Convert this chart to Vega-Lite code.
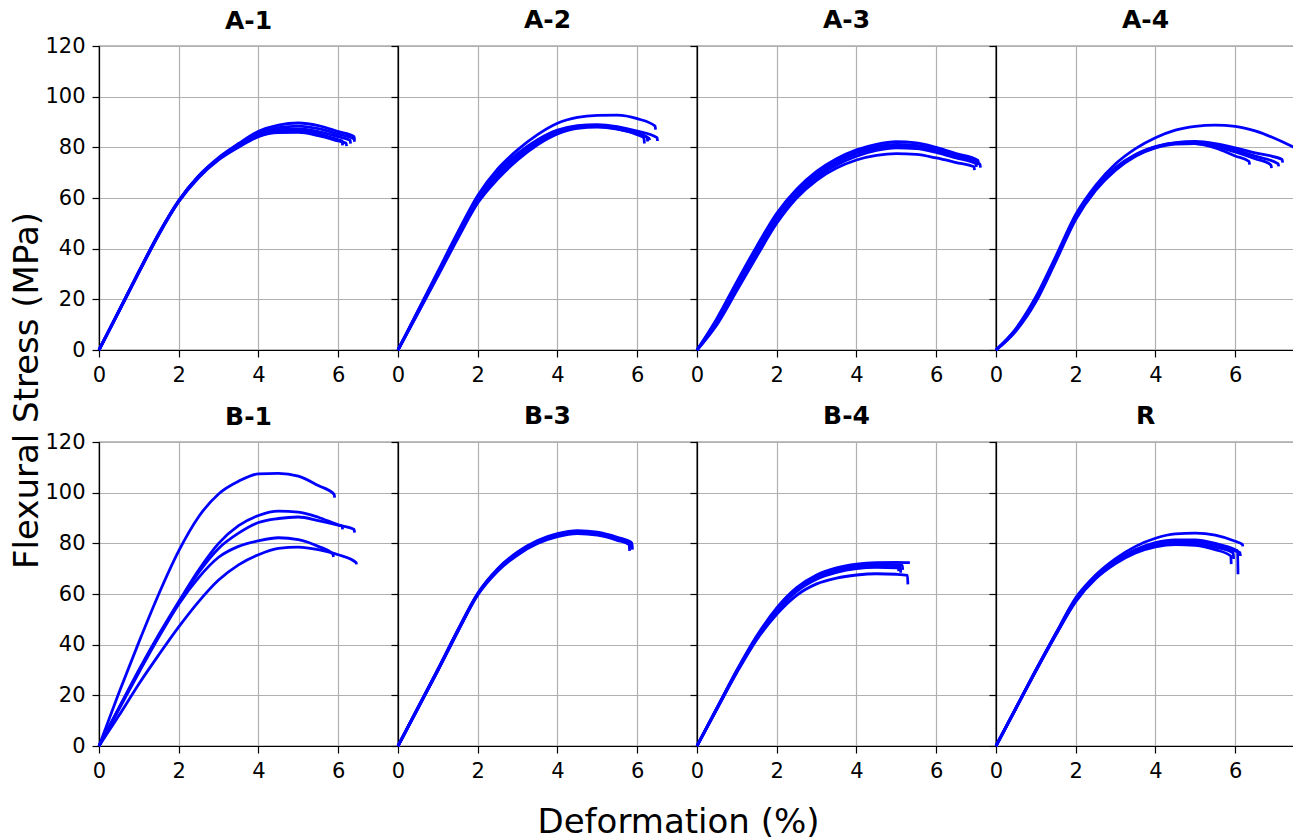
{
"$schema":"https://vega.github.io/schema/vega-lite/v6.json",
"padding":{"left":9,"top":7,"right":0,"bottom":0},
"background":"white",
"config":{
 "font":"DejaVu Sans",
 "view":{"stroke":"#000","strokeWidth":1.2},
 "line":{"color":"#0000ff","strokeWidth":2.8,"clip":true,"interpolate":"monotone"},
 "axis":{"domainColor":"#000","domainWidth":1.2,"tickColor":"#000","tickWidth":1.2,"tickSize":7,"labelFontSize":21,"labelColor":"#000","labelFont":"DejaVu Sans","labelPadding":7,"labelFlush":false,"labelOverlap":false,"gridColor":"#b0b0b0","gridWidth":1.2,"titleFontSize":34,"titleFontWeight":"normal","titleColor":"#000","titleFont":"DejaVu Sans"},
 "title":{"fontSize":25,"fontWeight":"bold","anchor":"middle","offset":12,"baseline":"alphabetic","frame":"group","color":"#000","font":"DejaVu Sans"}
},
"data":{"values":[
{"p":"A-1","c":"a","x":0,"y":0},{"p":"A-1","c":"a","x":0.5,"y":15.5},{"p":"A-1","c":"a","x":1,"y":31},{"p":"A-1","c":"a","x":1.5,"y":46},{"p":"A-1","c":"a","x":2,"y":59},{"p":"A-1","c":"a","x":2.5,"y":68.8},{"p":"A-1","c":"a","x":3,"y":76},{"p":"A-1","c":"a","x":3.5,"y":81.5},{"p":"A-1","c":"a","x":4,"y":86.3},{"p":"A-1","c":"a","x":4.5,"y":88.8},{"p":"A-1","c":"a","x":5,"y":89.6},{"p":"A-1","c":"a","x":5.5,"y":88.6},{"p":"A-1","c":"a","x":6,"y":86.2},{"p":"A-1","c":"a","x":6.4,"y":84.2},{"p":"A-1","c":"a","x":6.41,"y":83},
{"p":"A-1","c":"b","x":0,"y":0},{"p":"A-1","c":"b","x":0.5,"y":15.5},{"p":"A-1","c":"b","x":1,"y":31},{"p":"A-1","c":"b","x":1.5,"y":46},{"p":"A-1","c":"b","x":2,"y":59},{"p":"A-1","c":"b","x":2.5,"y":68.6},{"p":"A-1","c":"b","x":3,"y":75.7},{"p":"A-1","c":"b","x":3.5,"y":81},{"p":"A-1","c":"b","x":4,"y":85.5},{"p":"A-1","c":"b","x":4.5,"y":87.8},{"p":"A-1","c":"b","x":5,"y":88.4},{"p":"A-1","c":"b","x":5.5,"y":87.4},{"p":"A-1","c":"b","x":6,"y":85.2},{"p":"A-1","c":"b","x":6.4,"y":83.3},{"p":"A-1","c":"b","x":6.41,"y":82.2},
{"p":"A-1","c":"c","x":0,"y":0},{"p":"A-1","c":"c","x":0.5,"y":15.3},{"p":"A-1","c":"c","x":1,"y":30.8},{"p":"A-1","c":"c","x":1.5,"y":45.8},{"p":"A-1","c":"c","x":2,"y":58.8},{"p":"A-1","c":"c","x":2.5,"y":68.5},{"p":"A-1","c":"c","x":3,"y":75.5},{"p":"A-1","c":"c","x":3.5,"y":80.6},{"p":"A-1","c":"c","x":4,"y":85},{"p":"A-1","c":"c","x":4.5,"y":87},{"p":"A-1","c":"c","x":5,"y":87.3},{"p":"A-1","c":"c","x":5.5,"y":86.2},{"p":"A-1","c":"c","x":6,"y":84.2},{"p":"A-1","c":"c","x":6.3,"y":82.8},{"p":"A-1","c":"c","x":6.31,"y":81.5},
{"p":"A-1","c":"d","x":0,"y":0},{"p":"A-1","c":"d","x":0.5,"y":15.3},{"p":"A-1","c":"d","x":1,"y":30.7},{"p":"A-1","c":"d","x":1.5,"y":45.6},{"p":"A-1","c":"d","x":2,"y":58.6},{"p":"A-1","c":"d","x":2.5,"y":68.3},{"p":"A-1","c":"d","x":3,"y":75.3},{"p":"A-1","c":"d","x":3.5,"y":80.4},{"p":"A-1","c":"d","x":4,"y":84.5},{"p":"A-1","c":"d","x":4.5,"y":86.3},{"p":"A-1","c":"d","x":5,"y":86.6},{"p":"A-1","c":"d","x":5.5,"y":85.3},{"p":"A-1","c":"d","x":6,"y":83},{"p":"A-1","c":"d","x":6.1,"y":82.5},{"p":"A-1","c":"d","x":6.11,"y":80.8},
{"p":"A-1","c":"e","x":0,"y":0},{"p":"A-1","c":"e","x":0.5,"y":15.2},{"p":"A-1","c":"e","x":1,"y":30.5},{"p":"A-1","c":"e","x":1.5,"y":45.5},{"p":"A-1","c":"e","x":2,"y":58.5},{"p":"A-1","c":"e","x":2.5,"y":68},{"p":"A-1","c":"e","x":3,"y":75},{"p":"A-1","c":"e","x":3.5,"y":80},{"p":"A-1","c":"e","x":4,"y":84.2},{"p":"A-1","c":"e","x":4.5,"y":85.8},{"p":"A-1","c":"e","x":5,"y":85.9},{"p":"A-1","c":"e","x":5.5,"y":84.6},{"p":"A-1","c":"e","x":6,"y":82.5},{"p":"A-1","c":"e","x":6.2,"y":81.6},{"p":"A-1","c":"e","x":6.21,"y":80.5},

{"p":"A-2","c":"a","x":0,"y":0},{"p":"A-2","c":"a","x":0.5,"y":15.5},{"p":"A-2","c":"a","x":1,"y":31},{"p":"A-2","c":"a","x":1.5,"y":46.5},{"p":"A-2","c":"a","x":2,"y":61},{"p":"A-2","c":"a","x":2.5,"y":71.5},{"p":"A-2","c":"a","x":3,"y":79},{"p":"A-2","c":"a","x":3.5,"y":85},{"p":"A-2","c":"a","x":4,"y":89.5},{"p":"A-2","c":"a","x":4.5,"y":91.8},{"p":"A-2","c":"a","x":5,"y":92.6},{"p":"A-2","c":"a","x":5.5,"y":92.7},{"p":"A-2","c":"a","x":6,"y":91.3},{"p":"A-2","c":"a","x":6.45,"y":88.4},{"p":"A-2","c":"a","x":6.46,"y":87},
{"p":"A-2","c":"b","x":0,"y":0},{"p":"A-2","c":"b","x":0.5,"y":15.3},{"p":"A-2","c":"b","x":1,"y":30.5},{"p":"A-2","c":"b","x":1.5,"y":46},{"p":"A-2","c":"b","x":2,"y":60.5},{"p":"A-2","c":"b","x":2.5,"y":70.5},{"p":"A-2","c":"b","x":3,"y":77.5},{"p":"A-2","c":"b","x":3.5,"y":83},{"p":"A-2","c":"b","x":4,"y":86.8},{"p":"A-2","c":"b","x":4.5,"y":88.6},{"p":"A-2","c":"b","x":5,"y":89},{"p":"A-2","c":"b","x":5.5,"y":88.2},{"p":"A-2","c":"b","x":6,"y":86.4},{"p":"A-2","c":"b","x":6.5,"y":83.8},{"p":"A-2","c":"b","x":6.51,"y":82.5},
{"p":"A-2","c":"c","x":0,"y":0},{"p":"A-2","c":"c","x":0.5,"y":15},{"p":"A-2","c":"c","x":1,"y":30},{"p":"A-2","c":"c","x":1.5,"y":45.3},{"p":"A-2","c":"c","x":2,"y":59.5},{"p":"A-2","c":"c","x":2.5,"y":69.5},{"p":"A-2","c":"c","x":3,"y":76.5},{"p":"A-2","c":"c","x":3.5,"y":82},{"p":"A-2","c":"c","x":4,"y":86},{"p":"A-2","c":"c","x":4.5,"y":88.2},{"p":"A-2","c":"c","x":5,"y":88.7},{"p":"A-2","c":"c","x":5.5,"y":87.8},{"p":"A-2","c":"c","x":6,"y":85.6},{"p":"A-2","c":"c","x":6.25,"y":84},{"p":"A-2","c":"c","x":6.26,"y":82.3},
{"p":"A-2","c":"d","x":0,"y":0},{"p":"A-2","c":"d","x":0.5,"y":14.8},{"p":"A-2","c":"d","x":1,"y":29.7},{"p":"A-2","c":"d","x":1.5,"y":44.8},{"p":"A-2","c":"d","x":2,"y":59},{"p":"A-2","c":"d","x":2.5,"y":68.5},{"p":"A-2","c":"d","x":3,"y":75.5},{"p":"A-2","c":"d","x":3.5,"y":81.5},{"p":"A-2","c":"d","x":4,"y":85.6},{"p":"A-2","c":"d","x":4.5,"y":87.8},{"p":"A-2","c":"d","x":5,"y":88.4},{"p":"A-2","c":"d","x":5.5,"y":87.3},{"p":"A-2","c":"d","x":6,"y":85},{"p":"A-2","c":"d","x":6.17,"y":83.7},{"p":"A-2","c":"d","x":6.18,"y":81.5},
{"p":"A-2","c":"e","x":0,"y":0},{"p":"A-2","c":"e","x":0.5,"y":14.5},{"p":"A-2","c":"e","x":1,"y":29.2},{"p":"A-2","c":"e","x":1.5,"y":44},{"p":"A-2","c":"e","x":2,"y":58},{"p":"A-2","c":"e","x":2.5,"y":67.5},{"p":"A-2","c":"e","x":3,"y":75},{"p":"A-2","c":"e","x":3.5,"y":81},{"p":"A-2","c":"e","x":4,"y":85.3},{"p":"A-2","c":"e","x":4.5,"y":87.5},{"p":"A-2","c":"e","x":5,"y":88},{"p":"A-2","c":"e","x":5.5,"y":87.2},{"p":"A-2","c":"e","x":6,"y":85.3},{"p":"A-2","c":"e","x":6.3,"y":83.5},{"p":"A-2","c":"e","x":6.31,"y":82.8},

{"p":"A-3","c":"a","x":0,"y":0},{"p":"A-3","c":"a","x":0.5,"y":12.5},{"p":"A-3","c":"a","x":1,"y":27},{"p":"A-3","c":"a","x":1.5,"y":41},{"p":"A-3","c":"a","x":2,"y":54},{"p":"A-3","c":"a","x":2.5,"y":63.5},{"p":"A-3","c":"a","x":3,"y":70.5},{"p":"A-3","c":"a","x":3.5,"y":75.5},{"p":"A-3","c":"a","x":4,"y":79},{"p":"A-3","c":"a","x":4.5,"y":81.2},{"p":"A-3","c":"a","x":5,"y":82.2},{"p":"A-3","c":"a","x":5.5,"y":81.8},{"p":"A-3","c":"a","x":6,"y":80},{"p":"A-3","c":"a","x":6.5,"y":77.5},{"p":"A-3","c":"a","x":7.05,"y":74.8},{"p":"A-3","c":"a","x":7.06,"y":73.5},
{"p":"A-3","c":"b","x":0,"y":0},{"p":"A-3","c":"b","x":0.5,"y":12},{"p":"A-3","c":"b","x":1,"y":26},{"p":"A-3","c":"b","x":1.5,"y":40},{"p":"A-3","c":"b","x":2,"y":53},{"p":"A-3","c":"b","x":2.5,"y":62.5},{"p":"A-3","c":"b","x":3,"y":69.5},{"p":"A-3","c":"b","x":3.5,"y":74.5},{"p":"A-3","c":"b","x":4,"y":78},{"p":"A-3","c":"b","x":4.5,"y":80.3},{"p":"A-3","c":"b","x":5,"y":81.2},{"p":"A-3","c":"b","x":5.5,"y":80.8},{"p":"A-3","c":"b","x":6,"y":79.2},{"p":"A-3","c":"b","x":6.5,"y":76.8},{"p":"A-3","c":"b","x":7.05,"y":74.2},{"p":"A-3","c":"b","x":7.06,"y":73},
{"p":"A-3","c":"c","x":0,"y":0},{"p":"A-3","c":"c","x":0.5,"y":11},{"p":"A-3","c":"c","x":1,"y":25},{"p":"A-3","c":"c","x":1.5,"y":38.5},{"p":"A-3","c":"c","x":2,"y":51.5},{"p":"A-3","c":"c","x":2.5,"y":61.5},{"p":"A-3","c":"c","x":3,"y":69},{"p":"A-3","c":"c","x":3.5,"y":74},{"p":"A-3","c":"c","x":4,"y":77.5},{"p":"A-3","c":"c","x":4.5,"y":79.6},{"p":"A-3","c":"c","x":5,"y":80.5},{"p":"A-3","c":"c","x":5.5,"y":80.2},{"p":"A-3","c":"c","x":6,"y":78.6},{"p":"A-3","c":"c","x":6.5,"y":76.2},{"p":"A-3","c":"c","x":7.1,"y":73.3},{"p":"A-3","c":"c","x":7.11,"y":72},
{"p":"A-3","c":"d","x":0,"y":0},{"p":"A-3","c":"d","x":0.5,"y":10.5},{"p":"A-3","c":"d","x":1,"y":24},{"p":"A-3","c":"d","x":1.5,"y":37.5},{"p":"A-3","c":"d","x":2,"y":50.5},{"p":"A-3","c":"d","x":2.5,"y":60.5},{"p":"A-3","c":"d","x":3,"y":68},{"p":"A-3","c":"d","x":3.5,"y":73},{"p":"A-3","c":"d","x":4,"y":76.5},{"p":"A-3","c":"d","x":4.5,"y":78.8},{"p":"A-3","c":"d","x":5,"y":79.8},{"p":"A-3","c":"d","x":5.5,"y":79.5},{"p":"A-3","c":"d","x":6,"y":78},{"p":"A-3","c":"d","x":6.5,"y":75.8},{"p":"A-3","c":"d","x":7,"y":73.5},{"p":"A-3","c":"d","x":7.01,"y":72.3},
{"p":"A-3","c":"e","x":0,"y":0},{"p":"A-3","c":"e","x":0.5,"y":10},{"p":"A-3","c":"e","x":1,"y":23.5},{"p":"A-3","c":"e","x":1.5,"y":37},{"p":"A-3","c":"e","x":2,"y":50},{"p":"A-3","c":"e","x":2.5,"y":60},{"p":"A-3","c":"e","x":3,"y":67},{"p":"A-3","c":"e","x":3.5,"y":71.8},{"p":"A-3","c":"e","x":4,"y":75},{"p":"A-3","c":"e","x":4.5,"y":76.8},{"p":"A-3","c":"e","x":5,"y":77.5},{"p":"A-3","c":"e","x":5.5,"y":77.2},{"p":"A-3","c":"e","x":6,"y":75.8},{"p":"A-3","c":"e","x":6.5,"y":74},{"p":"A-3","c":"e","x":6.95,"y":72.3},{"p":"A-3","c":"e","x":6.96,"y":71},

{"p":"A-4","c":"a","x":0,"y":0},{"p":"A-4","c":"a","x":0.5,"y":8.5},{"p":"A-4","c":"a","x":1,"y":21},{"p":"A-4","c":"a","x":1.5,"y":37},{"p":"A-4","c":"a","x":2,"y":53.5},{"p":"A-4","c":"a","x":2.5,"y":65},{"p":"A-4","c":"a","x":3,"y":73.5},{"p":"A-4","c":"a","x":3.5,"y":79.5},{"p":"A-4","c":"a","x":4,"y":83.8},{"p":"A-4","c":"a","x":4.5,"y":86.8},{"p":"A-4","c":"a","x":5,"y":88.3},{"p":"A-4","c":"a","x":5.5,"y":88.8},{"p":"A-4","c":"a","x":6,"y":88.3},{"p":"A-4","c":"a","x":6.5,"y":86.5},{"p":"A-4","c":"a","x":7,"y":83.5},{"p":"A-4","c":"a","x":7.5,"y":79.8},
{"p":"A-4","c":"b","x":0,"y":0},{"p":"A-4","c":"b","x":0.5,"y":8},{"p":"A-4","c":"b","x":1,"y":20},{"p":"A-4","c":"b","x":1.5,"y":36},{"p":"A-4","c":"b","x":2,"y":52.5},{"p":"A-4","c":"b","x":2.5,"y":64},{"p":"A-4","c":"b","x":3,"y":72},{"p":"A-4","c":"b","x":3.5,"y":77.2},{"p":"A-4","c":"b","x":4,"y":80.3},{"p":"A-4","c":"b","x":4.5,"y":81.9},{"p":"A-4","c":"b","x":5,"y":82.3},{"p":"A-4","c":"b","x":5.5,"y":81.5},{"p":"A-4","c":"b","x":6,"y":79.8},{"p":"A-4","c":"b","x":6.5,"y":77.8},{"p":"A-4","c":"b","x":7.18,"y":75.2},{"p":"A-4","c":"b","x":7.19,"y":74},
{"p":"A-4","c":"c","x":0,"y":0},{"p":"A-4","c":"c","x":0.5,"y":7.8},{"p":"A-4","c":"c","x":1,"y":19.5},{"p":"A-4","c":"c","x":1.5,"y":35.5},{"p":"A-4","c":"c","x":2,"y":52},{"p":"A-4","c":"c","x":2.5,"y":63.5},{"p":"A-4","c":"c","x":3,"y":71.5},{"p":"A-4","c":"c","x":3.5,"y":76.8},{"p":"A-4","c":"c","x":4,"y":80},{"p":"A-4","c":"c","x":4.5,"y":81.6},{"p":"A-4","c":"c","x":5,"y":81.9},{"p":"A-4","c":"c","x":5.5,"y":81},{"p":"A-4","c":"c","x":6,"y":79},{"p":"A-4","c":"c","x":6.5,"y":76.5},{"p":"A-4","c":"c","x":7.08,"y":73.5},{"p":"A-4","c":"c","x":7.09,"y":72.5},
{"p":"A-4","c":"d","x":0,"y":0},{"p":"A-4","c":"d","x":0.5,"y":7.5},{"p":"A-4","c":"d","x":1,"y":19},{"p":"A-4","c":"d","x":1.5,"y":35},{"p":"A-4","c":"d","x":2,"y":51.5},{"p":"A-4","c":"d","x":2.5,"y":63},{"p":"A-4","c":"d","x":3,"y":71},{"p":"A-4","c":"d","x":3.5,"y":76.5},{"p":"A-4","c":"d","x":4,"y":79.8},{"p":"A-4","c":"d","x":4.5,"y":81.3},{"p":"A-4","c":"d","x":5,"y":81.5},{"p":"A-4","c":"d","x":5.5,"y":80.4},{"p":"A-4","c":"d","x":6,"y":78.2},{"p":"A-4","c":"d","x":6.5,"y":75.5},{"p":"A-4","c":"d","x":6.9,"y":73},{"p":"A-4","c":"d","x":6.91,"y":71.8},
{"p":"A-4","c":"e","x":0,"y":0},{"p":"A-4","c":"e","x":0.5,"y":8},{"p":"A-4","c":"e","x":1,"y":20},{"p":"A-4","c":"e","x":1.5,"y":36},{"p":"A-4","c":"e","x":2,"y":52.5},{"p":"A-4","c":"e","x":2.5,"y":63.8},{"p":"A-4","c":"e","x":3,"y":71.8},{"p":"A-4","c":"e","x":3.5,"y":77},{"p":"A-4","c":"e","x":4,"y":80.2},{"p":"A-4","c":"e","x":4.5,"y":81.7},{"p":"A-4","c":"e","x":5,"y":81.5},{"p":"A-4","c":"e","x":5.5,"y":79.8},{"p":"A-4","c":"e","x":6,"y":76.6},{"p":"A-4","c":"e","x":6.35,"y":74.4},{"p":"A-4","c":"e","x":6.36,"y":73.2},

{"p":"B-1","c":"a","x":0,"y":0},{"p":"B-1","c":"a","x":0.5,"y":21},{"p":"B-1","c":"a","x":1,"y":41},{"p":"B-1","c":"a","x":1.5,"y":60},{"p":"B-1","c":"a","x":2,"y":77},{"p":"B-1","c":"a","x":2.5,"y":90.5},{"p":"B-1","c":"a","x":3,"y":99.5},{"p":"B-1","c":"a","x":3.5,"y":104.5},{"p":"B-1","c":"a","x":4,"y":107.4},{"p":"B-1","c":"a","x":4.5,"y":107.6},{"p":"B-1","c":"a","x":5,"y":106.5},{"p":"B-1","c":"a","x":5.5,"y":102.8},{"p":"B-1","c":"a","x":5.9,"y":99.3},{"p":"B-1","c":"a","x":5.91,"y":98},
{"p":"B-1","c":"b","x":0,"y":0},{"p":"B-1","c":"b","x":0.5,"y":15},{"p":"B-1","c":"b","x":1,"y":30},{"p":"B-1","c":"b","x":1.5,"y":44},{"p":"B-1","c":"b","x":2,"y":57},{"p":"B-1","c":"b","x":2.5,"y":69.5},{"p":"B-1","c":"b","x":3,"y":80},{"p":"B-1","c":"b","x":3.5,"y":87},{"p":"B-1","c":"b","x":4,"y":91},{"p":"B-1","c":"b","x":4.5,"y":92.7},{"p":"B-1","c":"b","x":5,"y":92.3},{"p":"B-1","c":"b","x":5.5,"y":90.3},{"p":"B-1","c":"b","x":6,"y":87.3},{"p":"B-1","c":"b","x":6.1,"y":86.8},{"p":"B-1","c":"b","x":6.11,"y":85.5},
{"p":"B-1","c":"c","x":0,"y":0},{"p":"B-1","c":"c","x":0.5,"y":15},{"p":"B-1","c":"c","x":1,"y":29.5},{"p":"B-1","c":"c","x":1.5,"y":43.5},{"p":"B-1","c":"c","x":2,"y":56.5},{"p":"B-1","c":"c","x":2.5,"y":68.5},{"p":"B-1","c":"c","x":3,"y":78},{"p":"B-1","c":"c","x":3.5,"y":84},{"p":"B-1","c":"c","x":4,"y":88.2},{"p":"B-1","c":"c","x":4.5,"y":89.8},{"p":"B-1","c":"c","x":5,"y":90.4},{"p":"B-1","c":"c","x":5.5,"y":89},{"p":"B-1","c":"c","x":6,"y":87.2},{"p":"B-1","c":"c","x":6.4,"y":85.5},{"p":"B-1","c":"c","x":6.41,"y":84.2},
{"p":"B-1","c":"d","x":0,"y":0},{"p":"B-1","c":"d","x":0.5,"y":14.5},{"p":"B-1","c":"d","x":1,"y":29},{"p":"B-1","c":"d","x":1.5,"y":43},{"p":"B-1","c":"d","x":2,"y":56},{"p":"B-1","c":"d","x":2.5,"y":66.5},{"p":"B-1","c":"d","x":3,"y":74.5},{"p":"B-1","c":"d","x":3.5,"y":78.8},{"p":"B-1","c":"d","x":4,"y":81},{"p":"B-1","c":"d","x":4.5,"y":82.2},{"p":"B-1","c":"d","x":5,"y":81.5},{"p":"B-1","c":"d","x":5.5,"y":78.8},{"p":"B-1","c":"d","x":5.87,"y":75.7},{"p":"B-1","c":"d","x":5.88,"y":74.6},
{"p":"B-1","c":"e","x":0,"y":0},{"p":"B-1","c":"e","x":0.5,"y":12},{"p":"B-1","c":"e","x":1,"y":24.5},{"p":"B-1","c":"e","x":1.5,"y":36},{"p":"B-1","c":"e","x":2,"y":47},{"p":"B-1","c":"e","x":2.5,"y":57},{"p":"B-1","c":"e","x":3,"y":65.5},{"p":"B-1","c":"e","x":3.5,"y":71.5},{"p":"B-1","c":"e","x":4,"y":75.5},{"p":"B-1","c":"e","x":4.5,"y":78},{"p":"B-1","c":"e","x":5,"y":78.5},{"p":"B-1","c":"e","x":5.5,"y":77.5},{"p":"B-1","c":"e","x":6,"y":75.5},{"p":"B-1","c":"e","x":6.45,"y":72.4},{"p":"B-1","c":"e","x":6.46,"y":71.7},

{"p":"B-3","c":"a","x":0,"y":0},{"p":"B-3","c":"a","x":0.5,"y":15.2},{"p":"B-3","c":"a","x":1,"y":30.3},{"p":"B-3","c":"a","x":1.5,"y":45.8},{"p":"B-3","c":"a","x":2,"y":60.3},{"p":"B-3","c":"a","x":2.5,"y":70},{"p":"B-3","c":"a","x":3,"y":76.6},{"p":"B-3","c":"a","x":3.5,"y":81.1},{"p":"B-3","c":"a","x":4,"y":83.8},{"p":"B-3","c":"a","x":4.5,"y":85},{"p":"B-3","c":"a","x":5,"y":84.4},{"p":"B-3","c":"a","x":5.5,"y":82.4},{"p":"B-3","c":"a","x":5.85,"y":80.4},{"p":"B-3","c":"a","x":5.86,"y":78.5},
{"p":"B-3","c":"b","x":0,"y":0},{"p":"B-3","c":"b","x":0.5,"y":15.1},{"p":"B-3","c":"b","x":1,"y":30.1},{"p":"B-3","c":"b","x":1.5,"y":45.6},{"p":"B-3","c":"b","x":2,"y":60.1},{"p":"B-3","c":"b","x":2.5,"y":69.7},{"p":"B-3","c":"b","x":3,"y":76.3},{"p":"B-3","c":"b","x":3.5,"y":80.8},{"p":"B-3","c":"b","x":4,"y":83.5},{"p":"B-3","c":"b","x":4.5,"y":84.7},{"p":"B-3","c":"b","x":5,"y":84.1},{"p":"B-3","c":"b","x":5.5,"y":82.1},{"p":"B-3","c":"b","x":5.87,"y":80},{"p":"B-3","c":"b","x":5.88,"y":77.5},
{"p":"B-3","c":"c","x":0,"y":0},{"p":"B-3","c":"c","x":0.5,"y":15},{"p":"B-3","c":"c","x":1,"y":30},{"p":"B-3","c":"c","x":1.5,"y":45.5},{"p":"B-3","c":"c","x":2,"y":60},{"p":"B-3","c":"c","x":2.5,"y":69.5},{"p":"B-3","c":"c","x":3,"y":76},{"p":"B-3","c":"c","x":3.5,"y":80.5},{"p":"B-3","c":"c","x":4,"y":83.2},{"p":"B-3","c":"c","x":4.5,"y":84.4},{"p":"B-3","c":"c","x":5,"y":83.8},{"p":"B-3","c":"c","x":5.5,"y":81.8},{"p":"B-3","c":"c","x":5.85,"y":79.8},{"p":"B-3","c":"c","x":5.86,"y":78.2},
{"p":"B-3","c":"d","x":0,"y":0},{"p":"B-3","c":"d","x":0.5,"y":14.9},{"p":"B-3","c":"d","x":1,"y":29.9},{"p":"B-3","c":"d","x":1.5,"y":45.3},{"p":"B-3","c":"d","x":2,"y":59.8},{"p":"B-3","c":"d","x":2.5,"y":69.3},{"p":"B-3","c":"d","x":3,"y":75.7},{"p":"B-3","c":"d","x":3.5,"y":80.2},{"p":"B-3","c":"d","x":4,"y":82.9},{"p":"B-3","c":"d","x":4.5,"y":84.1},{"p":"B-3","c":"d","x":5,"y":83.5},{"p":"B-3","c":"d","x":5.5,"y":81.5},{"p":"B-3","c":"d","x":5.82,"y":79.6},{"p":"B-3","c":"d","x":5.83,"y":78.6},
{"p":"B-3","c":"e","x":0,"y":0},{"p":"B-3","c":"e","x":0.5,"y":14.8},{"p":"B-3","c":"e","x":1,"y":29.7},{"p":"B-3","c":"e","x":1.5,"y":45.1},{"p":"B-3","c":"e","x":2,"y":59.6},{"p":"B-3","c":"e","x":2.5,"y":69},{"p":"B-3","c":"e","x":3,"y":75.4},{"p":"B-3","c":"e","x":3.5,"y":79.9},{"p":"B-3","c":"e","x":4,"y":82.6},{"p":"B-3","c":"e","x":4.5,"y":83.8},{"p":"B-3","c":"e","x":5,"y":83.2},{"p":"B-3","c":"e","x":5.5,"y":81.2},{"p":"B-3","c":"e","x":5.8,"y":79.5},{"p":"B-3","c":"e","x":5.81,"y":77},

{"p":"B-4","c":"a","x":0,"y":0},{"p":"B-4","c":"a","x":0.5,"y":15},{"p":"B-4","c":"a","x":1,"y":30},{"p":"B-4","c":"a","x":1.5,"y":43.5},{"p":"B-4","c":"a","x":2,"y":54.5},{"p":"B-4","c":"a","x":2.5,"y":62.5},{"p":"B-4","c":"a","x":3,"y":67.5},{"p":"B-4","c":"a","x":3.5,"y":70.3},{"p":"B-4","c":"a","x":4,"y":71.8},{"p":"B-4","c":"a","x":4.5,"y":72.4},{"p":"B-4","c":"a","x":5,"y":72.5},{"p":"B-4","c":"a","x":5.34,"y":72.4},
{"p":"B-4","c":"b","x":0,"y":0},{"p":"B-4","c":"b","x":0.5,"y":15},{"p":"B-4","c":"b","x":1,"y":29.5},{"p":"B-4","c":"b","x":1.5,"y":43},{"p":"B-4","c":"b","x":2,"y":54},{"p":"B-4","c":"b","x":2.5,"y":62},{"p":"B-4","c":"b","x":3,"y":67},{"p":"B-4","c":"b","x":3.5,"y":69.8},{"p":"B-4","c":"b","x":4,"y":71.2},{"p":"B-4","c":"b","x":4.5,"y":71.8},{"p":"B-4","c":"b","x":5,"y":71.6},{"p":"B-4","c":"b","x":5.15,"y":71.3},{"p":"B-4","c":"b","x":5.16,"y":69.5},
{"p":"B-4","c":"c","x":0,"y":0},{"p":"B-4","c":"c","x":0.5,"y":14.8},{"p":"B-4","c":"c","x":1,"y":29.5},{"p":"B-4","c":"c","x":1.5,"y":43},{"p":"B-4","c":"c","x":2,"y":53.5},{"p":"B-4","c":"c","x":2.5,"y":61.5},{"p":"B-4","c":"c","x":3,"y":66.3},{"p":"B-4","c":"c","x":3.5,"y":69},{"p":"B-4","c":"c","x":4,"y":70.4},{"p":"B-4","c":"c","x":4.5,"y":71},{"p":"B-4","c":"c","x":5,"y":70.8},{"p":"B-4","c":"c","x":5.1,"y":70.6},{"p":"B-4","c":"c","x":5.11,"y":68.4},
{"p":"B-4","c":"d","x":0,"y":0},{"p":"B-4","c":"d","x":0.5,"y":14.8},{"p":"B-4","c":"d","x":1,"y":29.5},{"p":"B-4","c":"d","x":1.5,"y":42.5},{"p":"B-4","c":"d","x":2,"y":53},{"p":"B-4","c":"d","x":2.5,"y":61},{"p":"B-4","c":"d","x":3,"y":65.8},{"p":"B-4","c":"d","x":3.5,"y":68.5},{"p":"B-4","c":"d","x":4,"y":70},{"p":"B-4","c":"d","x":4.5,"y":70.5},{"p":"B-4","c":"d","x":5,"y":70.3},{"p":"B-4","c":"d","x":5.05,"y":70.2},{"p":"B-4","c":"d","x":5.06,"y":69},
{"p":"B-4","c":"e","x":0,"y":0},{"p":"B-4","c":"e","x":0.5,"y":14.6},{"p":"B-4","c":"e","x":1,"y":29},{"p":"B-4","c":"e","x":1.5,"y":42},{"p":"B-4","c":"e","x":2,"y":52},{"p":"B-4","c":"e","x":2.5,"y":59.5},{"p":"B-4","c":"e","x":3,"y":64},{"p":"B-4","c":"e","x":3.5,"y":66.3},{"p":"B-4","c":"e","x":4,"y":67.5},{"p":"B-4","c":"e","x":4.5,"y":68},{"p":"B-4","c":"e","x":5,"y":67.8},{"p":"B-4","c":"e","x":5.28,"y":67.4},{"p":"B-4","c":"e","x":5.29,"y":63.8},

{"p":"R","c":"a","x":0,"y":0},{"p":"R","c":"a","x":0.5,"y":15},{"p":"R","c":"a","x":1,"y":30},{"p":"R","c":"a","x":1.5,"y":44.5},{"p":"R","c":"a","x":2,"y":58.5},{"p":"R","c":"a","x":2.5,"y":67.5},{"p":"R","c":"a","x":3,"y":74},{"p":"R","c":"a","x":3.5,"y":78.8},{"p":"R","c":"a","x":4,"y":82},{"p":"R","c":"a","x":4.5,"y":83.7},{"p":"R","c":"a","x":5,"y":84},{"p":"R","c":"a","x":5.5,"y":83.2},{"p":"R","c":"a","x":6,"y":80.8},{"p":"R","c":"a","x":6.18,"y":79.6},{"p":"R","c":"a","x":6.19,"y":78.8},
{"p":"R","c":"b","x":0,"y":0},{"p":"R","c":"b","x":0.5,"y":15},{"p":"R","c":"b","x":1,"y":30},{"p":"R","c":"b","x":1.5,"y":44.3},{"p":"R","c":"b","x":2,"y":58},{"p":"R","c":"b","x":2.5,"y":67},{"p":"R","c":"b","x":3,"y":73.2},{"p":"R","c":"b","x":3.5,"y":77.6},{"p":"R","c":"b","x":4,"y":80.3},{"p":"R","c":"b","x":4.5,"y":81.4},{"p":"R","c":"b","x":5,"y":81.4},{"p":"R","c":"b","x":5.5,"y":80},{"p":"R","c":"b","x":6,"y":77.5},{"p":"R","c":"b","x":6.06,"y":77},{"p":"R","c":"b","x":6.07,"y":67.8},
{"p":"R","c":"c","x":0,"y":0},{"p":"R","c":"c","x":0.5,"y":14.9},{"p":"R","c":"c","x":1,"y":29.8},{"p":"R","c":"c","x":1.5,"y":44},{"p":"R","c":"c","x":2,"y":57.5},{"p":"R","c":"c","x":2.5,"y":66.5},{"p":"R","c":"c","x":3,"y":72.5},{"p":"R","c":"c","x":3.5,"y":77},{"p":"R","c":"c","x":4,"y":79.8},{"p":"R","c":"c","x":4.5,"y":80.9},{"p":"R","c":"c","x":5,"y":80.8},{"p":"R","c":"c","x":5.5,"y":79.5},{"p":"R","c":"c","x":6,"y":77},{"p":"R","c":"c","x":6.12,"y":76.3},{"p":"R","c":"c","x":6.13,"y":75},
{"p":"R","c":"d","x":0,"y":0},{"p":"R","c":"d","x":0.5,"y":14.8},{"p":"R","c":"d","x":1,"y":29.6},{"p":"R","c":"d","x":1.5,"y":43.8},{"p":"R","c":"d","x":2,"y":57},{"p":"R","c":"d","x":2.5,"y":66},{"p":"R","c":"d","x":3,"y":72},{"p":"R","c":"d","x":3.5,"y":76.2},{"p":"R","c":"d","x":4,"y":78.6},{"p":"R","c":"d","x":4.5,"y":79.5},{"p":"R","c":"d","x":5,"y":79.2},{"p":"R","c":"d","x":5.5,"y":77.5},{"p":"R","c":"d","x":5.89,"y":75},{"p":"R","c":"d","x":5.9,"y":71.8},
{"p":"R","c":"e","x":0,"y":0},{"p":"R","c":"e","x":0.5,"y":14.9},{"p":"R","c":"e","x":1,"y":29.7},{"p":"R","c":"e","x":1.5,"y":44},{"p":"R","c":"e","x":2,"y":57.5},{"p":"R","c":"e","x":2.5,"y":66.3},{"p":"R","c":"e","x":3,"y":72.3},{"p":"R","c":"e","x":3.5,"y":76.6},{"p":"R","c":"e","x":4,"y":79.2},{"p":"R","c":"e","x":4.5,"y":80.2},{"p":"R","c":"e","x":5,"y":80},{"p":"R","c":"e","x":5.5,"y":78.5},{"p":"R","c":"e","x":5.95,"y":76.2},{"p":"R","c":"e","x":5.96,"y":73.8}
]},
"bounds":"flush",
"columns":4,
"spacing":{"row":92,"column":0},
"concat":[
 {"title":{"text":"A-1","dy":10.5},"width":299,"height":304,"transform":[{"filter":"datum.p === 'A-1'"}],
  "mark":"line",
  "encoding":{"x":{"field":"x","type":"quantitative","scale":{"domain":[0,7.5],"nice":false},"axis":{"values":[0,2,4,6],"title":null}},
   "y":{"field":"y","type":"quantitative","scale":{"domain":[0,120],"nice":false},"axis":{"values":[0,20,40,60,80,100,120],"title":"Flexural Stress (MPa)","titleX":-72,"titleY":344,"titleBaseline":"middle","titleAlign":"center","titleAngle":-90}},
   "detail":{"field":"c","type":"nominal"}}},
 {"title":"A-2","width":299,"height":304,"transform":[{"filter":"datum.p === 'A-2'"}],
  "mark":"line",
  "encoding":{"x":{"field":"x","type":"quantitative","scale":{"domain":[0,7.5],"nice":false},"axis":{"values":[0,2,4,6],"title":null}},
   "y":{"field":"y","type":"quantitative","scale":{"domain":[0,120],"nice":false},"axis":{"values":[0,20,40,60,80,100,120],"title":null,"labels":false}},
   "detail":{"field":"c","type":"nominal"}}},
 {"title":"A-3","width":299,"height":304,"transform":[{"filter":"datum.p === 'A-3'"}],
  "mark":"line",
  "encoding":{"x":{"field":"x","type":"quantitative","scale":{"domain":[0,7.5],"nice":false},"axis":{"values":[0,2,4,6],"title":null}},
   "y":{"field":"y","type":"quantitative","scale":{"domain":[0,120],"nice":false},"axis":{"values":[0,20,40,60,80,100,120],"title":null,"labels":false}},
   "detail":{"field":"c","type":"nominal"}}},
 {"title":"A-4","width":299,"height":304,"transform":[{"filter":"datum.p === 'A-4'"}],
  "mark":"line",
  "encoding":{"x":{"field":"x","type":"quantitative","scale":{"domain":[0,7.5],"nice":false},"axis":{"values":[0,2,4,6],"title":null}},
   "y":{"field":"y","type":"quantitative","scale":{"domain":[0,120],"nice":false},"axis":{"values":[0,20,40,60,80,100,120],"title":null,"labels":false}},
   "detail":{"field":"c","type":"nominal"}}},
 {"title":{"text":"B-1","dy":10.5},"width":299,"height":304,"transform":[{"filter":"datum.p === 'B-1'"}],
  "mark":"line",
  "encoding":{"x":{"field":"x","type":"quantitative","scale":{"domain":[0,7.5],"nice":false},"axis":{"values":[0,2,4,6],"title":null}},
   "y":{"field":"y","type":"quantitative","scale":{"domain":[0,120],"nice":false},"axis":{"values":[0,20,40,60,80,100,120],"title":null}},
   "detail":{"field":"c","type":"nominal"}}},
 {"title":"B-3","width":299,"height":304,"transform":[{"filter":"datum.p === 'B-3'"}],
  "mark":"line",
  "encoding":{"x":{"field":"x","type":"quantitative","scale":{"domain":[0,7.5],"nice":false},"axis":{"values":[0,2,4,6],"title":"Deformation (%)","titleX":280,"titleY":86,"titleBaseline":"alphabetic","titleAlign":"center"}},
   "y":{"field":"y","type":"quantitative","scale":{"domain":[0,120],"nice":false},"axis":{"values":[0,20,40,60,80,100,120],"title":null,"labels":false}},
   "detail":{"field":"c","type":"nominal"}}},
 {"title":"B-4","width":299,"height":304,"transform":[{"filter":"datum.p === 'B-4'"}],
  "mark":"line",
  "encoding":{"x":{"field":"x","type":"quantitative","scale":{"domain":[0,7.5],"nice":false},"axis":{"values":[0,2,4,6],"title":null}},
   "y":{"field":"y","type":"quantitative","scale":{"domain":[0,120],"nice":false},"axis":{"values":[0,20,40,60,80,100,120],"title":null,"labels":false}},
   "detail":{"field":"c","type":"nominal"}}},
 {"title":"R","width":299,"height":304,"transform":[{"filter":"datum.p === 'R'"}],
  "mark":"line",
  "encoding":{"x":{"field":"x","type":"quantitative","scale":{"domain":[0,7.5],"nice":false},"axis":{"values":[0,2,4,6],"title":null}},
   "y":{"field":"y","type":"quantitative","scale":{"domain":[0,120],"nice":false},"axis":{"values":[0,20,40,60,80,100,120],"title":null,"labels":false}},
   "detail":{"field":"c","type":"nominal"}}}
]
}
